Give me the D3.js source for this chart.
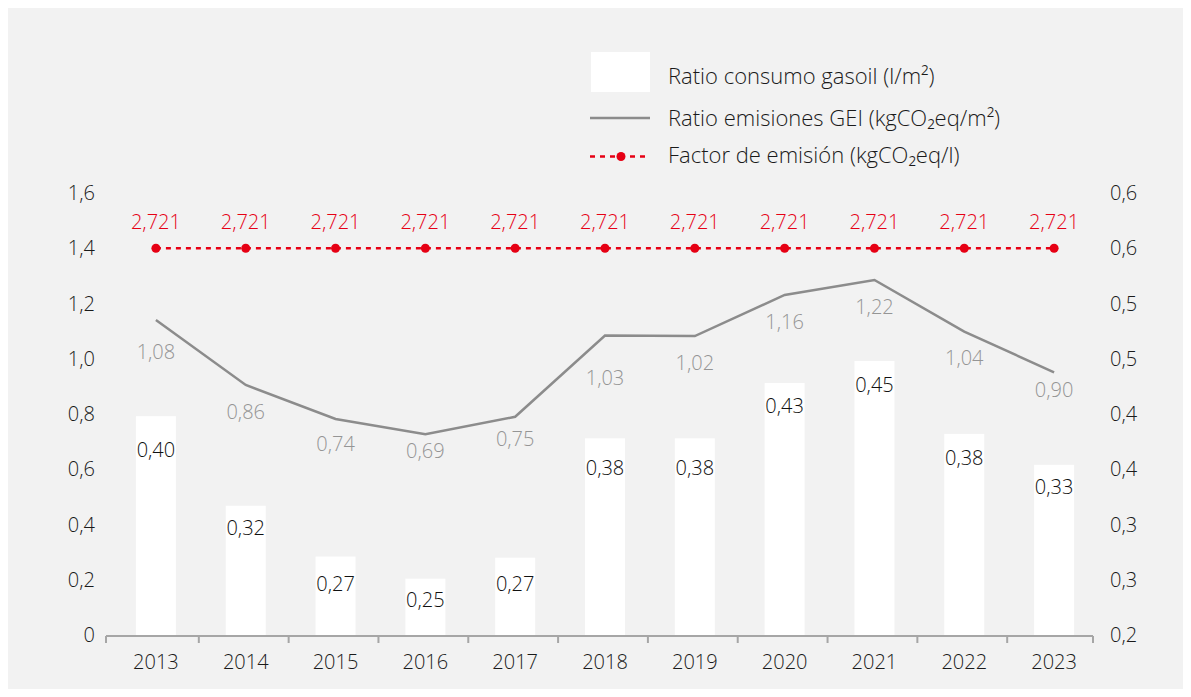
<!DOCTYPE html>
<html>
<head>
<meta charset="utf-8">
<script src="https://cdn.jsdelivr.net/npm/d3@7"></script>
<style>
  body { margin: 0; background: #fff; }
  text { font-family: "Open Sans", "Noto Sans", sans-serif; font-weight: 350; }
</style>
</head>
<body>
<svg id="chart" width="1191" height="697"></svg>
<script>
var years = ["2013", "2014", "2015", "2016", "2017", "2018", "2019", "2020", "2021", "2022", "2023"];
// bars, right axis
var gasoil = [0.398, 0.317, 0.271, 0.251, 0.270, 0.378, 0.378, 0.428, 0.448, 0.382, 0.354];
var gasoilLabels = ["0,40", "0,32", "0,27", "0,25", "0,27", "0,38", "0,38", "0,43", "0,45", "0,38", "0,33"];
// grey line, left axis
var emisiones = [1.140, 0.905, 0.782, 0.727, 0.790, 1.084, 1.082, 1.231, 1.285, 1.098, 0.951];
var emisionesLabels = ["1,08", "0,86", "0,74", "0,69", "0,75", "1,03", "1,02", "1,16", "1,22", "1,04", "0,90"];
// red dotted line, left axis
var factor = [1.4, 1.4, 1.4, 1.4, 1.4, 1.4, 1.4, 1.4, 1.4, 1.4, 1.4];
var factorLabels = ["2,721", "2,721", "2,721", "2,721", "2,721", "2,721", "2,721", "2,721", "2,721", "2,721", "2,721"];

var leftTicks = [0, 0.2, 0.4, 0.6, 0.8, 1.0, 1.2, 1.4, 1.6];
var leftTickLabels = ["0", "0,2", "0,4", "0,6", "0,8", "1,0", "1,2", "1,4", "1,6"];
var rightTicks = [0.2, 0.25, 0.3, 0.35, 0.4, 0.45, 0.5, 0.55, 0.6];
var rightTickLabels = ["0,2", "0,3", "0,3", "0,4", "0,4", "0,5", "0,5", "0,6", "0,6"];

var legendLabels = ["Ratio consumo gasoil (l/m²)", "Ratio emisiones GEI (kgCO₂eq/m²)", "Factor de emisión (kgCO₂eq/l)"];

// label nudges (px below the point), as placed in the original
var lineLabelDy = [32, 27, 25, 17, 22, 42, 27, 27, 27, 26, 18];
var barLabelDy = [34, 22, 27, 21, 26, 30, 30, 23, 24, 24, 22];

var RED = "#e60014", GREY = "#8c8c8c", LABEL_GREY = "#959595", INK = "#1a1a1a";

var svg = d3.select("#chart");

svg.append("rect")
    .attr("x", 8).attr("y", 8)
    .attr("width", 1175).attr("height", 681)
    .attr("fill", "#f2f2f2");

var x = d3.scaleBand().domain(years).range([111, 1099]).paddingInner(0).paddingOuter(0),
    yL = d3.scaleLinear().domain([0, 1.6]).range([635, 193]),
    yR = d3.scaleLinear().domain([0.2, 0.6]).range([635, 193]);

function cx(d) { return x(d) + x.bandwidth() / 2; }

// bars
svg.append("g").selectAll("rect")
  .data(years)
  .enter().append("rect")
    .attr("x", function(d) { return cx(d) - 20; })
    .attr("y", function(d, i) { return yR(gasoil[i]); })
    .attr("width", 40)
    .attr("height", function(d, i) { return yR(0.2) - yR(gasoil[i]); })
    .attr("fill", "#fff");

// x axis
var axisEnd = 1093;
var g = svg.append("g").attr("stroke", "#a6a6a6").attr("stroke-width", 2);
g.append("line").attr("x1", 106).attr("x2", axisEnd).attr("y1", 636).attr("y2", 636);
var tickXs = years.map(function(d) { return x(d) - 2; });
tickXs[0] = 106;
tickXs.push(axisEnd);
g.selectAll("line.tick")
  .data(tickXs)
  .enter().append("line")
    .attr("class", "tick")
    .attr("x1", function(d) { return d; }).attr("x2", function(d) { return d; })
    .attr("y1", 636).attr("y2", 643);

svg.append("g").selectAll("text")
  .data(years)
  .enter().append("text")
    .attr("x", cx)
    .attr("y", 662)
    .attr("dy", "0.35em")
    .attr("text-anchor", "middle")
    .attr("font-size", 20)
    .attr("fill", INK)
    .text(function(d) { return d; });

// y axes
svg.append("g").selectAll("text")
  .data(leftTicks)
  .enter().append("text")
    .attr("x", 95)
    .attr("y", function(d) { return yL(d); })
    .attr("dy", "0.35em")
    .attr("text-anchor", "end")
    .attr("font-size", 20)
    .attr("fill", INK)
    .text(function(d, i) { return leftTickLabels[i]; });

svg.append("g").selectAll("text")
  .data(rightTicks)
  .enter().append("text")
    .attr("x", 1110)
    .attr("y", function(d) { return yR(d); })
    .attr("dy", "0.35em")
    .attr("text-anchor", "start")
    .attr("font-size", 20)
    .attr("fill", INK)
    .text(function(d, i) { return rightTickLabels[i]; });

// bar labels
svg.append("g").selectAll("text")
  .data(years)
  .enter().append("text")
    .attr("x", cx)
    .attr("y", function(d, i) { return yR(gasoil[i]) + barLabelDy[i]; })
    .attr("dy", "0.35em")
    .attr("text-anchor", "middle")
    .attr("font-size", 20)
    .attr("fill", "#111")
    .text(function(d, i) { return gasoilLabels[i]; });

// grey line
var line = d3.line()
    .x(function(d, i) { return cx(years[i]); })
    .y(function(d) { return yL(d); });

svg.append("path")
    .datum(emisiones)
    .attr("d", line)
    .attr("fill", "none")
    .attr("stroke", GREY)
    .attr("stroke-width", 2.5);

svg.append("g").selectAll("text")
  .data(emisiones)
  .enter().append("text")
    .attr("x", function(d, i) { return cx(years[i]); })
    .attr("y", function(d, i) { return yL(d) + lineLabelDy[i]; })
    .attr("dy", "0.35em")
    .attr("text-anchor", "middle")
    .attr("font-size", 20)
    .attr("fill", LABEL_GREY)
    .text(function(d, i) { return emisionesLabels[i]; });

// red dotted line
svg.append("path")
    .datum(factor)
    .attr("d", line)
    .attr("fill", "none")
    .attr("stroke", RED)
    .attr("stroke-width", 2.5)
    .attr("stroke-dasharray", "5,5");

svg.append("g").selectAll("circle")
  .data(factor)
  .enter().append("circle")
    .attr("cx", function(d, i) { return cx(years[i]); })
    .attr("cy", function(d) { return yL(d); })
    .attr("r", 4.5)
    .attr("fill", RED);

svg.append("g").selectAll("text")
  .data(factor)
  .enter().append("text")
    .attr("x", function(d, i) { return cx(years[i]); })
    .attr("y", function(d) { return yL(d) - 26; })
    .attr("dy", "0.35em")
    .attr("text-anchor", "middle")
    .attr("font-size", 20)
    .attr("fill", RED)
    .text(function(d, i) { return factorLabels[i]; });

// legend
var legend = svg.append("g");
legend.append("rect")
    .attr("x", 591).attr("y", 52).attr("width", 59).attr("height", 40)
    .attr("fill", "#fff");
legend.append("line")
    .attr("x1", 590).attr("x2", 650).attr("y1", 118).attr("y2", 118)
    .attr("stroke", GREY).attr("stroke-width", 2.5);
legend.append("line")
    .attr("x1", 590).attr("x2", 650).attr("y1", 156.5).attr("y2", 156.5)
    .attr("stroke", RED).attr("stroke-width", 2.5).attr("stroke-dasharray", "5,5");
legend.append("circle")
    .attr("cx", 621).attr("cy", 156.5).attr("r", 4.5).attr("fill", RED);

legend.selectAll("text")
  .data(legendLabels)
  .enter().append("text")
    .attr("x", 668)
    .attr("y", function(d, i) { return [76, 118, 155][i]; })
    .attr("dy", "0.35em")
    .attr("font-size", 22)
    .attr("fill", INK)
    .text(function(d) { return d; });
</script>
</body>
</html>
